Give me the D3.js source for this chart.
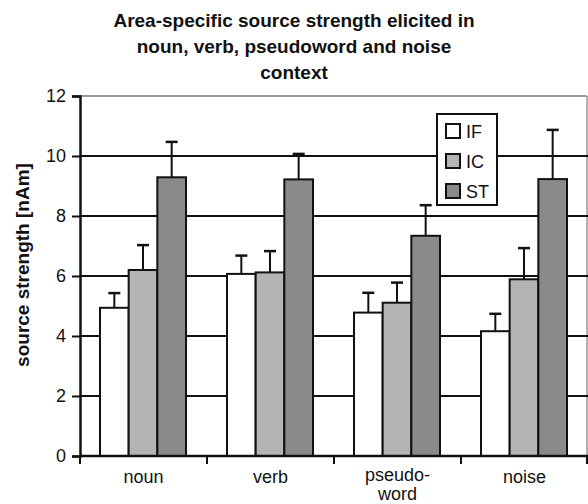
<!DOCTYPE html>
<html><head><meta charset="utf-8">
<script src="https://cdn.jsdelivr.net/npm/d3@7"></script>
<style>body{margin:0;background:#fff}svg{display:block}text{font-family:"Liberation Sans",Arial,sans-serif}</style>
</head><body>
<script>
const categories = ["noun", "verb", "pseudo-word", "noise"];
const categoryLines = [["noun"], ["verb"], ["pseudo-", "word"], ["noise"]];
const series = ["IF", "IC", "ST"];
const valuesIF = [4.94, 6.07, 4.78, 4.16];
const valuesIC = [6.20, 6.12, 5.11, 5.89];
const valuesST = [9.29, 9.22, 7.34, 9.23];
const errIF = [0.49, 0.61, 0.66, 0.58];
const errIC = [0.83, 0.71, 0.67, 1.04];
const errST = [1.18, 0.85, 1.02, 1.64];
const yTicks = [0, 2, 4, 6, 8, 10, 12];
const titleLines = ["Area-specific source strength elicited in", "noun, verb, pseudoword and noise", "context"];
const yLabel = "source strength [nAm]";
const colors = {IF: "#ffffff", IC: "#b4b4b4", ST: "#8a8a8a"};

(function () {
const W = 588, H = 504;
const pL = 80, pR = 588, pT = 96, pB = 456;
const svg = d3.select("body").append("svg").attr("width", W).attr("height", H);

const valueMap = {IF: valuesIF, IC: valuesIC, ST: valuesST};
const errMap = {IF: errIF, IC: errIC, ST: errST};

const x0 = d3.scaleBand().domain(categories).range([pL, pR]).padding(0);
const x1 = d3.scaleBand().domain(series).range([20, 106]).padding(0);
const y = d3.scaleLinear().domain([0, 12]).range([pB, pT]);

// title
svg.append("g").selectAll("text").data(titleLines).join("text")
  .attr("x", W / 2).attr("y", (d, i) => 27 + i * 26)
  .attr("text-anchor", "middle").attr("font-size", 19).attr("font-weight", "bold")
  .attr("fill", "#111").text(d => d);

// top & right border (gray)
svg.append("line").attr("x1", pL).attr("x2", pR - 1).attr("y1", y(12)).attr("y2", y(12))
  .attr("stroke", "#999").attr("stroke-width", 2);
svg.append("line").attr("x1", pR - 1).attr("x2", pR - 1).attr("y1", y(12)).attr("y2", y(0))
  .attr("stroke", "#999").attr("stroke-width", 1.5);

// gridlines
svg.append("g").selectAll("line").data(yTicks.filter(t => t > 0 && t < 12)).join("line")
  .attr("x1", pL).attr("x2", pR).attr("y1", d => y(d)).attr("y2", d => y(d))
  .attr("stroke", "#111").attr("stroke-width", 2);

// bars
const groups = svg.append("g").selectAll("g").data(categories).join("g")
  .attr("transform", d => `translate(${x0(d)},0)`);

groups.each(function (c, ci) {
  const g = d3.select(this);
  const data = series.map(s => ({s, v: valueMap[s][ci], e: errMap[s][ci]}));
  const cx = d => x1(d.s) + x1.bandwidth() / 2;
  g.selectAll("line.err").data(data).join("line").attr("class", "err")
    .attr("x1", cx).attr("x2", cx)
    .attr("y1", d => y(d.v)).attr("y2", d => y(d.v + d.e))
    .attr("stroke", "#111").attr("stroke-width", 2);
  g.selectAll("line.cap").data(data).join("line").attr("class", "cap")
    .attr("x1", d => cx(d) - 6).attr("x2", d => cx(d) + 6)
    .attr("y1", d => y(d.v + d.e)).attr("y2", d => y(d.v + d.e))
    .attr("stroke", "#111").attr("stroke-width", 2.5);
  g.selectAll("rect").data(data).join("rect")
    .attr("x", d => x1(d.s)).attr("width", x1.bandwidth())
    .attr("y", d => y(d.v)).attr("height", d => y(0) - y(d.v))
    .attr("fill", d => colors[d.s]).attr("stroke", "#111").attr("stroke-width", 2);
});

// y axis
const yAxis = svg.append("g").attr("transform", `translate(${pL},0)`)
  .call(d3.axisLeft(y).tickValues(yTicks).tickSize(8).tickPadding(6));
yAxis.select(".domain").attr("stroke", "#111").attr("stroke-width", 2.5);
yAxis.selectAll(".tick line").attr("stroke", "#111").attr("stroke-width", 2);
yAxis.selectAll(".tick text").attr("font-size", 18).attr("fill", "#111")
  .attr("font-family", "Liberation Sans, Arial, sans-serif");

// x axis
const xAxisG = svg.append("g").attr("transform", `translate(0,${pB})`);
xAxisG.append("line").attr("x1", pL).attr("x2", pR).attr("y1", 0).attr("y2", 0)
  .attr("stroke", "#111").attr("stroke-width", 2.5);
const boundaries = categories.map(c => x0(c)).concat([pR - 1]);
xAxisG.selectAll("line.tk").data(boundaries).join("line").attr("class", "tk")
  .attr("x1", d => d).attr("x2", d => d).attr("y1", 0).attr("y2", 8)
  .attr("stroke", "#111").attr("stroke-width", 2);
categories.forEach((c, i) => {
  const cxp = x0(c) + x0.bandwidth() / 2;
  const lines = categoryLines[i];
  const t = xAxisG.append("text").attr("text-anchor", "middle").attr("font-size", 18).attr("fill", "#111")
    .attr("x", cxp).attr("y", lines.length > 1 ? 25 : 26.5);
  lines.forEach((ln, j) => {
    t.append("tspan").attr("x", cxp).attr("dy", j === 0 ? 0 : 19).text(ln);
  });
});

// y label
svg.append("text").attr("transform", `translate(29,265) rotate(-90)`)
  .attr("text-anchor", "middle").attr("font-size", 19).attr("font-weight", "bold").attr("fill", "#111")
  .text(yLabel);

// legend
const lg = svg.append("g");
lg.append("rect").attr("x", 437).attr("y", 114).attr("width", 60).attr("height", 91)
  .attr("fill", "#fff").attr("stroke", "#111").attr("stroke-width", 2);
const items = lg.selectAll("g").data(series).join("g")
  .attr("transform", (d, i) => `translate(446,${131 + i * 30})`);
items.append("rect").attr("x", 0).attr("y", -7).attr("width", 14).attr("height", 14)
  .attr("fill", d => colors[d]).attr("stroke", "#111").attr("stroke-width", 2);
items.append("text").attr("x", 20).attr("y", 6.5).attr("font-size", 18).attr("fill", "#111").text(d => d);
})();
</script>
</body></html>
